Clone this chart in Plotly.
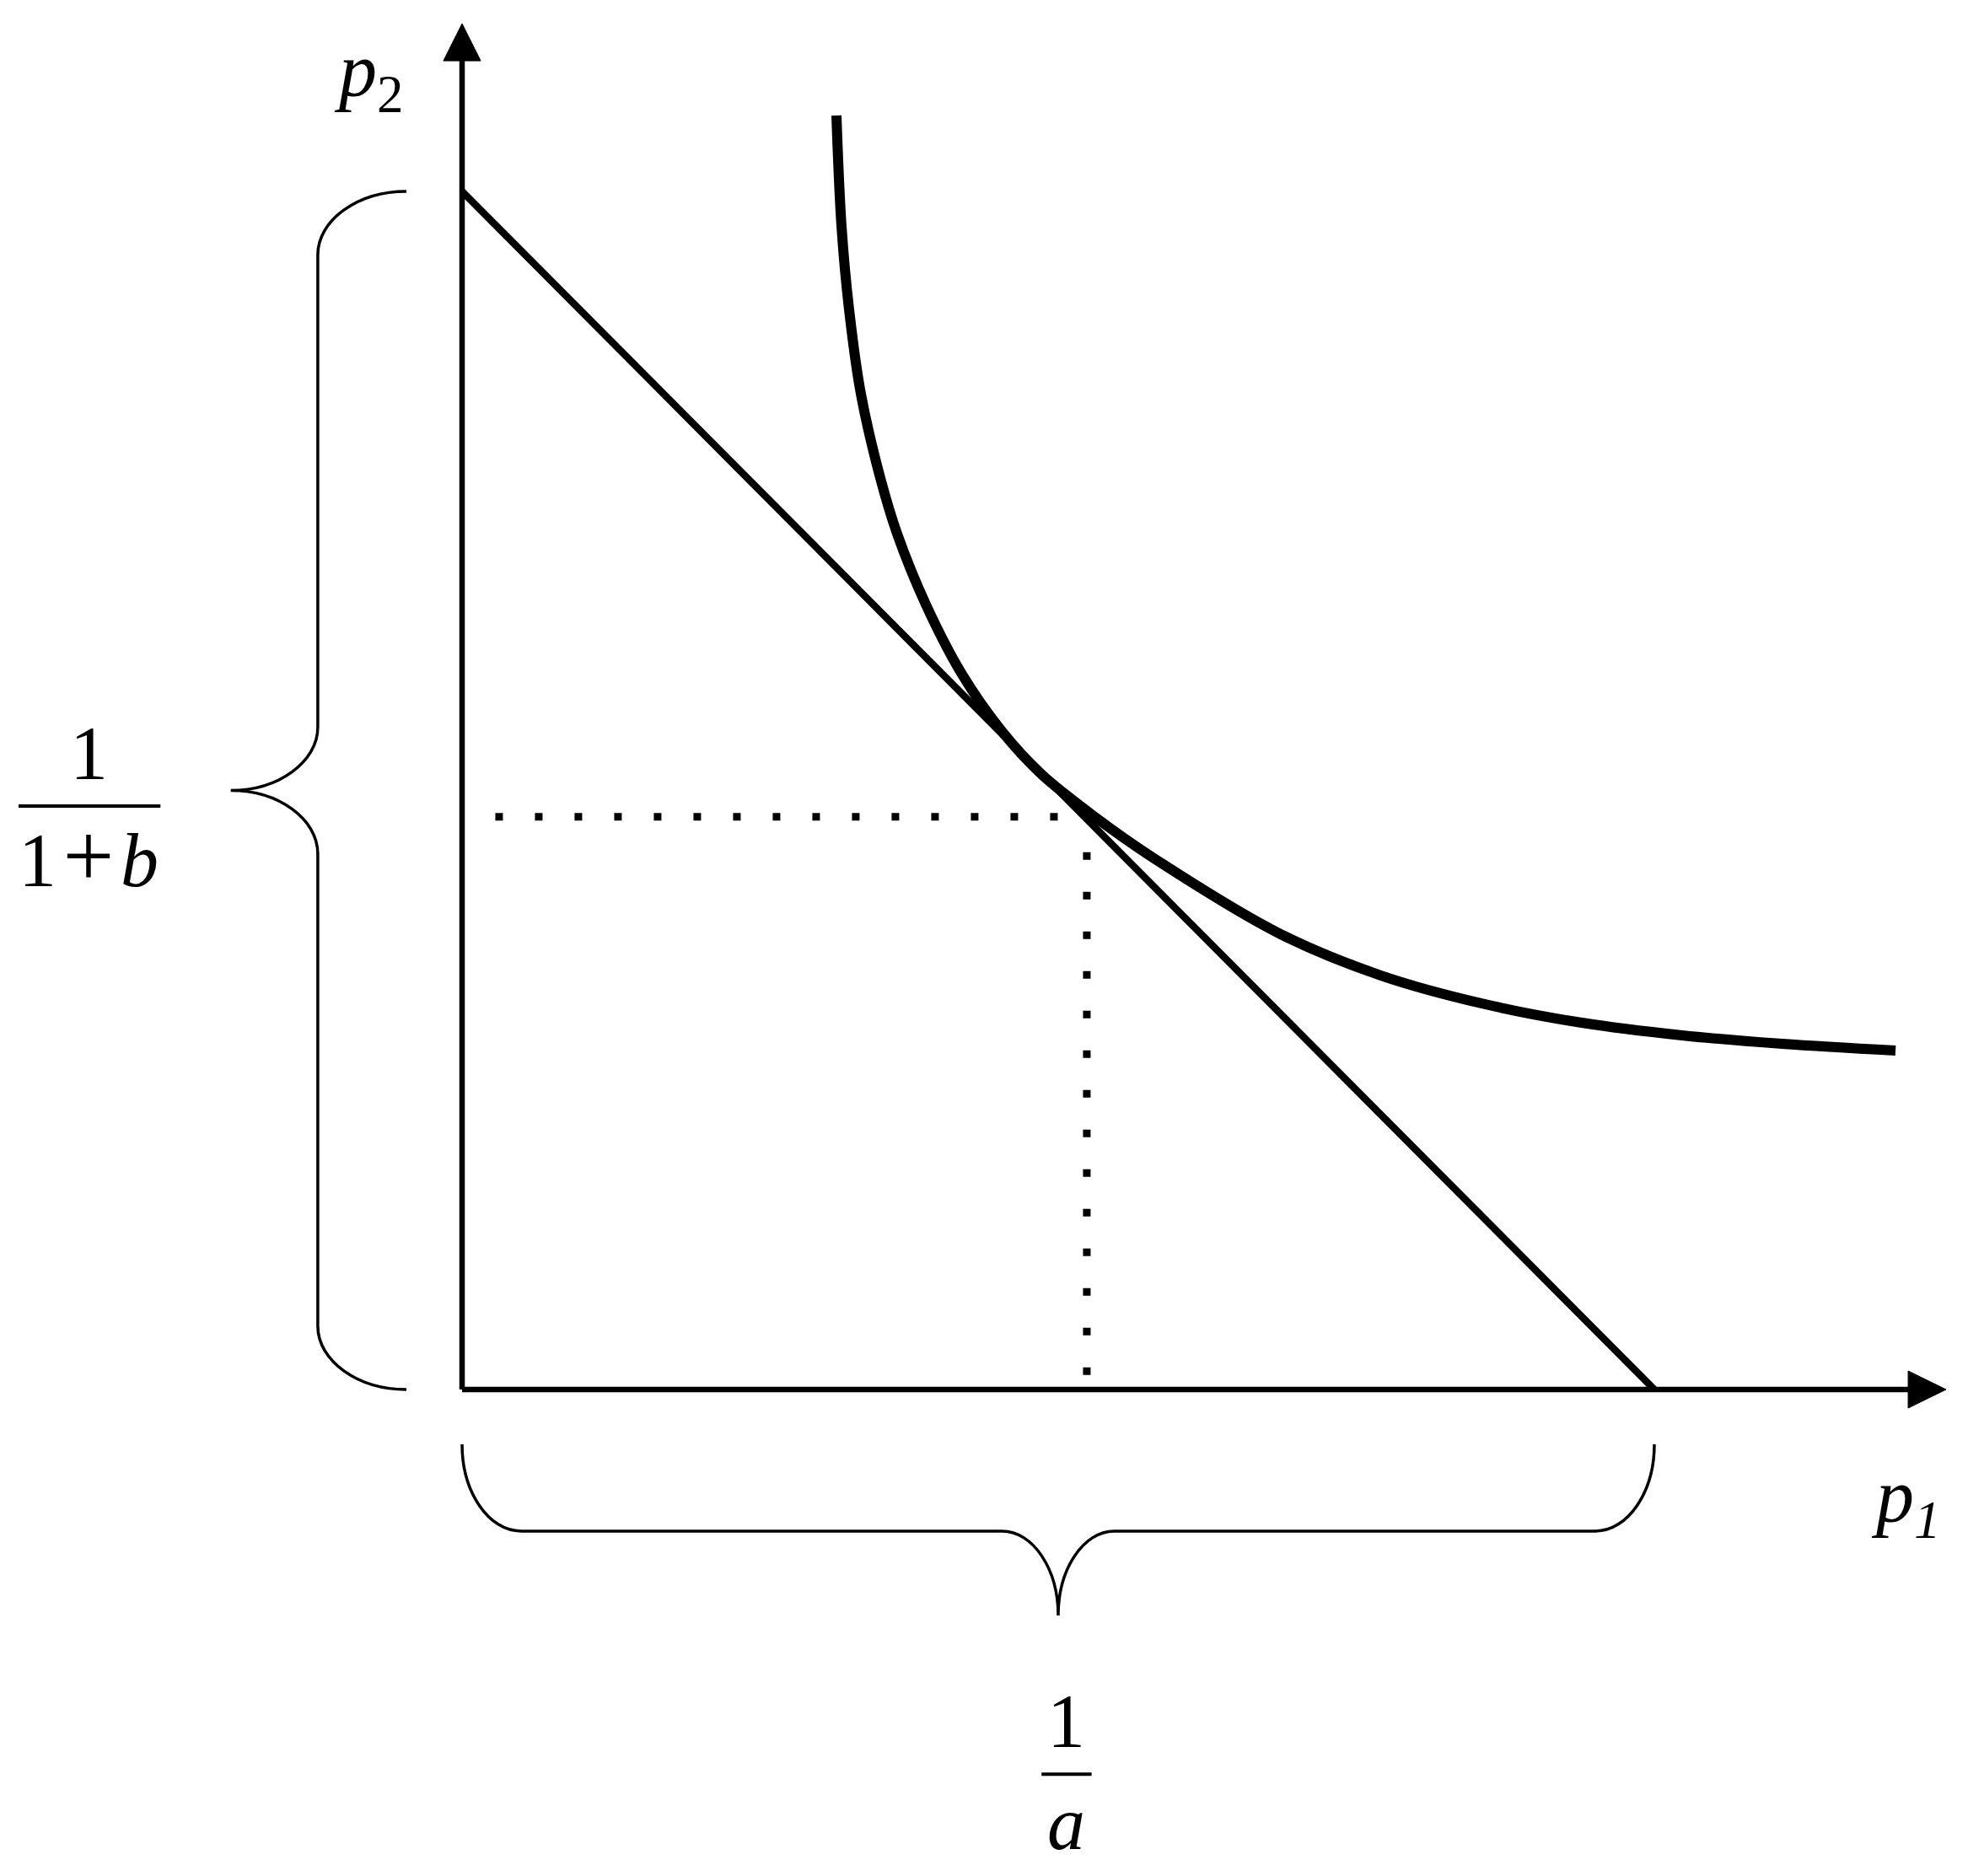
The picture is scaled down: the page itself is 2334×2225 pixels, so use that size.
import plotly.graph_objects as go

# ---------------- data (normalised units: 1/a = 1, 1/(1+b) = 1) ----------------
INV_A = 1.0            # p1-intercept of the straight line, 1/a
INV_1PB = 1.0          # p2-intercept of the straight line, 1/(1+b)
TANGENT_P1 = 0.524     # foot of the vertical dotted line
TANGENT_P2 = 0.478     # level of the horizontal dotted line

curve_p1 = [0.3140, 0.3182, 0.3246, 0.3345, 0.3508, 0.3649, 0.3890, 0.4194, 0.4526, 0.4851,
            0.5318, 0.5792, 0.6867, 0.7709, 0.8550, 0.9392, 1.0233, 1.1075, 1.2023]
curve_p2 = [1.0633, 0.9718, 0.9015, 0.8311, 0.7607, 0.7143, 0.6552, 0.5968, 0.5496, 0.5144,
            0.4771, 0.4441, 0.3800, 0.3455, 0.3223, 0.3061, 0.2956, 0.2885, 0.2829]

axis_labels = ["p", "1", "2"]
frac_num = "1"
frac_den_left = ["1", "+", "b"]
frac_den_bottom = "a"

# ---------------- layout constants (data units) ----------------
X_RANGE = [-0.38755, 1.26308]
Y_RANGE = [-0.40605, 1.15975]
X_ARROW_BASE, X_ARROW_TIP, X_ARROW_HALF = 1.2129, 1.2447, 0.0155
Y_ARROW_BASE, Y_ARROW_TIP, Y_ARROW_HALF = 1.109, 1.140, 0.0156

BLACK = "#000000"
FONT = "Liberation Serif, Times New Roman, serif"
FS = 90

fig = go.Figure()

# axes
fig.add_trace(go.Scatter(x=[0, 0], y=[Y_ARROW_BASE + 0.005, 0], mode="lines",
                         line=dict(color=BLACK, width=6.5), hoverinfo="skip"))
fig.add_trace(go.Scatter(x=[0, X_ARROW_BASE + 0.005], y=[0, 0], mode="lines",
                         line=dict(color=BLACK, width=6.5), hoverinfo="skip"))
# arrowheads
fig.add_trace(go.Scatter(x=[-Y_ARROW_HALF, 0, Y_ARROW_HALF, -Y_ARROW_HALF],
                         y=[Y_ARROW_BASE, Y_ARROW_TIP, Y_ARROW_BASE, Y_ARROW_BASE],
                         mode="lines", fill="toself", fillcolor=BLACK,
                         line=dict(color=BLACK, width=1), hoverinfo="skip"))
fig.add_trace(go.Scatter(x=[X_ARROW_BASE, X_ARROW_TIP, X_ARROW_BASE, X_ARROW_BASE],
                         y=[-X_ARROW_HALF, 0, X_ARROW_HALF, -X_ARROW_HALF],
                         mode="lines", fill="toself", fillcolor=BLACK,
                         line=dict(color=BLACK, width=1), hoverinfo="skip"))

# dotted guide lines (drawn from the tangency point outwards)
fig.add_trace(go.Scatter(x=[TANGENT_P1, 0], y=[TANGENT_P2, TANGENT_P2], mode="lines",
                         line=dict(color=BLACK, width=9, dash="0px,34.5px,9px,3.5px"),
                         hoverinfo="skip"))
fig.add_trace(go.Scatter(x=[TANGENT_P1, TANGENT_P1], y=[TANGENT_P2, 0], mode="lines",
                         line=dict(color=BLACK, width=9, dash="4px,38px,5px,0px"),
                         hoverinfo="skip"))

# straight line
fig.add_trace(go.Scatter(x=[0, INV_A], y=[INV_1PB, 0], mode="lines",
                         line=dict(color=BLACK, width=8.5), hoverinfo="skip"))
# curve
fig.add_trace(go.Scatter(x=curve_p1, y=curve_p2, mode="lines",
                         line=dict(color=BLACK, width=12, shape="spline", smoothing=1.0),
                         hoverinfo="skip"))

# ---------------- braces ----------------
K = 0.55


def vbrace(x_end, x_spine, x_tip, y0, y1, r_end, r_mid):
    ym = (y0 + y1) / 2
    dxe = x_end - x_spine
    dxm = x_spine - x_tip
    return (f"M {x_end},{y1} "
            f"C {x_end - dxe * K},{y1} {x_spine},{y1 - r_end * (1 - K)} {x_spine},{y1 - r_end} "
            f"L {x_spine},{ym + r_mid} "
            f"C {x_spine},{ym + r_mid * (1 - K)} {x_tip + dxm * K},{ym} {x_tip},{ym} "
            f"C {x_tip + dxm * K},{ym} {x_spine},{ym - r_mid * (1 - K)} {x_spine},{ym - r_mid} "
            f"L {x_spine},{y0 + r_end} "
            f"C {x_spine},{y0 + r_end * (1 - K)} {x_end - dxe * K},{y0} {x_end},{y0}")


def hbrace(y_end, y_spine, y_tip, x0, x1, r_end, r_mid):
    xm = (x0 + x1) / 2
    dye = y_end - y_spine
    dym = y_spine - y_tip
    return (f"M {x0},{y_end} "
            f"C {x0},{y_end - dye * K} {x0 + r_end * (1 - K)},{y_spine} {x0 + r_end},{y_spine} "
            f"L {xm - r_mid},{y_spine} "
            f"C {xm - r_mid * (1 - K)},{y_spine} {xm},{y_tip + dym * K} {xm},{y_tip} "
            f"C {xm},{y_tip + dym * K} {xm + r_mid * (1 - K)},{y_spine} {xm + r_mid},{y_spine} "
            f"L {x1 - r_end},{y_spine} "
            f"C {x1 - r_end * (1 - K)},{y_spine} {x1},{y_end - dye * K} {x1},{y_end}")


shapes = [
    dict(type="path", xref="x", yref="y",
         path=vbrace(-0.0467, -0.121, -0.194, 0.0, INV_1PB, 0.053, 0.053),
         line=dict(color=BLACK, width=3.5)),
    dict(type="path", xref="x", yref="y",
         path=hbrace(-0.0457, -0.1182, -0.1886, 0.0, INV_A, 0.0495, 0.047),
         line=dict(color=BLACK, width=3.5)),
    # fraction bars
    dict(type="line", xref="x", yref="y", x0=-0.372, x1=-0.253, y0=0.487, y1=0.487,
         line=dict(color=BLACK, width=4)),
    dict(type="line", xref="x", yref="y", x0=0.486, x1=0.528, y0=-0.321, y1=-0.321,
         line=dict(color=BLACK, width=4)),
]

ann = []


def txt(x, y, text, size=FS):
    ann.append(dict(x=x, y=y, xref="x", yref="y", text=text, showarrow=False,
                    xanchor="center", yanchor="middle",
                    font=dict(family=FONT, size=size, color=BLACK)))


txt(-0.078, 1.096, f"<i>{axis_labels[0]}</i><sub>{axis_labels[2]}</sub>")
txt(1.211, -0.094, f"<i>{axis_labels[0]}</i><sub><i>{axis_labels[1]}</i></sub>")
txt(-0.313, 0.531, frac_num)
txt(-0.313, 0.446,
    f"{frac_den_left[0]}\u200a<span style='font-size:108px'>{frac_den_left[1]}</span>\u200a"
    f"<i>{frac_den_left[2]}</i>")
txt(0.507, -0.277, frac_num)
txt(0.507, -0.362, f"<i>{frac_den_bottom}</i>")

fig.update_layout(
    width=2334, height=2225, autosize=False,
    margin=dict(l=0, r=0, t=0, b=0, pad=0),
    paper_bgcolor="white", plot_bgcolor="white",
    showlegend=False,
    xaxis=dict(range=X_RANGE, visible=False, fixedrange=True),
    yaxis=dict(range=Y_RANGE, visible=False, fixedrange=True),
    shapes=shapes, annotations=ann,
)

fig.write_html("out.html", config={"displayModeBar": False},
               post_script="document.body.style.margin='0';document.body.style.overflow='hidden';")
